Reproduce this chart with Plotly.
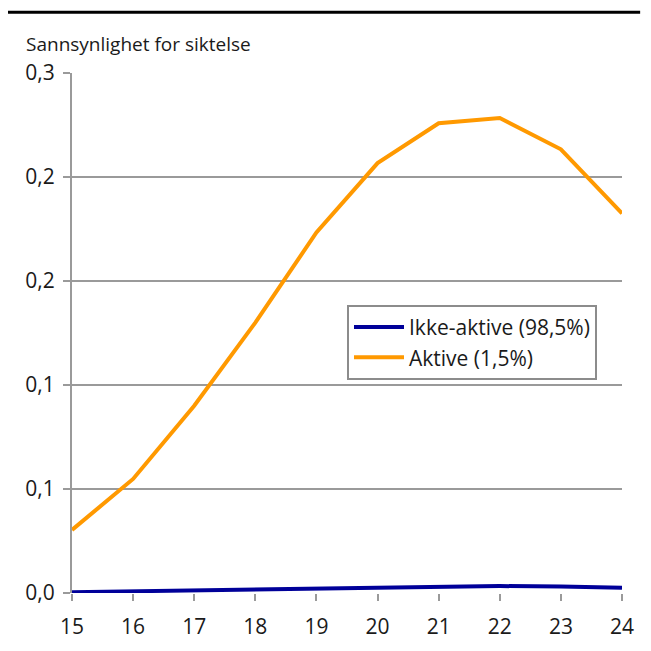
import plotly.graph_objects as go

# age and probability of being charged
alder = [15, 16, 17, 18, 19, 20, 21, 22, 23, 24]
ikke_aktive = [0.0005, 0.001, 0.0017, 0.0025, 0.003, 0.0035, 0.004, 0.004, 0.0038, 0.003]
aktive = [0.0364, 0.0658, 0.108, 0.156, 0.208, 0.248, 0.271, 0.274, 0.256, 0.219]

y_ticks = [0, 0.06, 0.12, 0.18, 0.24, 0.30]
y_labels = ["0,0", "0,1", "0,1", "0,2", "0,2", "0,3"]

fig = go.Figure()
fig.add_trace(go.Scatter(x=alder, y=ikke_aktive, mode="lines", name="Ikke-aktive (98,5%)",
                         line=dict(color="#000099", width=4)))
fig.add_trace(go.Scatter(x=alder, y=aktive, mode="lines", name="Aktive (1,5%)",
                         line=dict(color="#FF9900", width=4)))

# the page body has an 8px margin, so the figure is a bit smaller than the window
fig.update_layout(
    width=643, height=643,
    margin=dict(l=64, r=29, t=65, b=58),
    paper_bgcolor="white", plot_bgcolor="white",
    font=dict(family="Open Sans", size=21, color="#1a1a1a"),
    legend=dict(x=0.5, y=0.554, xanchor="left", yanchor="top",
                bordercolor="#8c8c8c", borderwidth=2, bgcolor="white",
                font=dict(size=21), itemwidth=50, tracegroupgap=0),
    showlegend=True,
)
fig.update_xaxes(range=[15, 24], tickvals=alder, showgrid=False, zeroline=False,
                 showline=False, ticks="outside", ticklen=7, tickwidth=2, tickcolor="#9a9a9a",
                 ticklabelstandoff=8)
fig.update_yaxes(range=[0, 0.3], tickvals=y_ticks, ticktext=y_labels, showgrid=True,
                 gridcolor="#9a9a9a", gridwidth=2, zeroline=False, showline=True,
                 linecolor="#9a9a9a", linewidth=2, ticks="outside", ticklen=7,
                 tickwidth=2, tickcolor="#9a9a9a", ticklabelstandoff=4)

fig.add_annotation(text="Sannsynlighet for siktelse", xref="paper", yref="paper",
                   x=-0.087, y=1.056, xanchor="left", yanchor="middle", showarrow=False,
                   font=dict(size=19))
fig.add_shape(type="line", xref="paper", yref="paper", x0=-0.13, x1=1.033,
              y0=1.117, y1=1.117, line=dict(color="black", width=3))

fig.write_html("out.html")
